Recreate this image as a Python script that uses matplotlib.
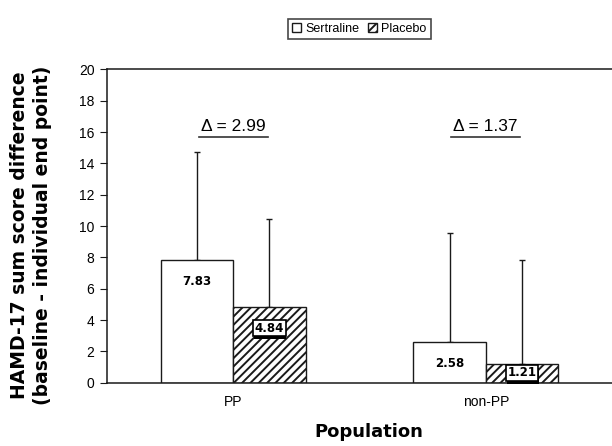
import matplotlib.pyplot as plt
import matplotlib.patheffects as pe
import numpy as np

plt.rcParams['font.family'] = ['Liberation Sans', 'DejaVu Sans']
plt.rcParams['hatch.linewidth'] = 1.4

populations = ['PP', 'non-PP']
series = ['Sertraline', 'Placebo']
sertraline = [7.83, 2.58]
placebo = [4.84, 1.21]
sertraline_sd = [6.90, 6.97]
placebo_sd = [5.63, 6.64]
deltas = [2.99, 1.37]

fig = plt.figure(figsize=(6.12, 4.46), dpi=100)
ax = fig.add_axes([0.1748, 0.1419, 0.8252, 0.7023])

x = np.arange(len(populations))
w = 0.287
ink = '#1a1a1a'

# bars
b1 = ax.bar(x - w / 2, sertraline, w, color='white', edgecolor=ink, lw=1.0,
            label=series[0], zorder=2)
b2 = ax.bar(x + w / 2, placebo, w, color='white', edgecolor=ink, lw=1.0,
            hatch='////', label=series[1], zorder=2)

# error bars, upward only
ax.errorbar(x - w / 2, sertraline, yerr=[np.zeros(2), sertraline_sd], fmt='none',
            ecolor=ink, elinewidth=1.0, capsize=2.5, capthick=1.0, zorder=1)
ax.errorbar(x + w / 2, placebo, yerr=[np.zeros(2), placebo_sd], fmt='none',
            ecolor=ink, elinewidth=1.0, capsize=2.5, capthick=1.0, zorder=1)

# value labels inside the bars
lab_kw = dict(ha='center', va='center', fontsize=8.5, fontweight='bold',
              family='DejaVu Sans')
for xi, v in zip(x - w / 2, sertraline):
    ax.text(xi, max(v - 1.35, 0.64), f'{v:.2f}', zorder=4, **lab_kw)
for xi, v in zip(x + w / 2, placebo):
    t = ax.text(xi, max(v - 1.35, 0.64), f'{v:.2f}', zorder=5,
                bbox=dict(boxstyle='square,pad=0.12', fc='white', ec='black', lw=1.2),
                **lab_kw)
    # dark shadow under the box
    t.get_bbox_patch().set_path_effects([
        pe.SimplePatchShadow(offset=(0.5, -2.5), shadow_rgbFace='black', alpha=1.0),
        pe.Normal()])

# delta annotations, underlined
for xi, d in zip(x, deltas):
    ax.text(xi, 16.35, f'Δ = {d:.2f}', ha='center', va='center', fontsize=12.5)
    ax.plot([xi - 0.137, xi + 0.137], [15.68, 15.68], color='#333333', lw=1.2)

ax.set_xlim(-0.5, 1.5)
ax.set_ylim(0, 20)
ax.set_yticks(np.arange(0, 21, 2))
ax.set_xticks(x)
ax.set_xticklabels(populations, fontsize=10)
ax.tick_params(axis='x', length=0, pad=9)
ax.tick_params(axis='y', labelsize=10, length=5, pad=4, direction='out', color=ink)
ax.spines['right'].set_visible(False)
for s in ['left', 'top', 'bottom']:
    ax.spines[s].set_color(ink)
    ax.spines[s].set_linewidth(1.1)

ax.set_ylabel('HAMD-17 sum score difference\n(baseline - individual end point)',
              family='DejaVu Sans', fontweight='bold', fontsize=13.5, linespacing=1.3)
ax.yaxis.set_label_coords(-0.108, 0.47)
ax.set_xlabel('Population', family='DejaVu Sans', fontweight='bold', fontsize=13)
ax.xaxis.set_label_coords(0.519, -0.128)

leg = fig.legend(handles=[b1, b2], loc='center', bbox_to_anchor=(359 / 612, 1 - 29 / 446),
                 ncol=2, fontsize=9, frameon=True, fancybox=False, edgecolor=ink,
                 handlelength=0.75, handleheight=0.75, handletextpad=0.3,
                 columnspacing=0.7, borderpad=0.35)
leg.get_frame().set_linewidth(1.2)

fig.savefig('out.png', dpi=100)
